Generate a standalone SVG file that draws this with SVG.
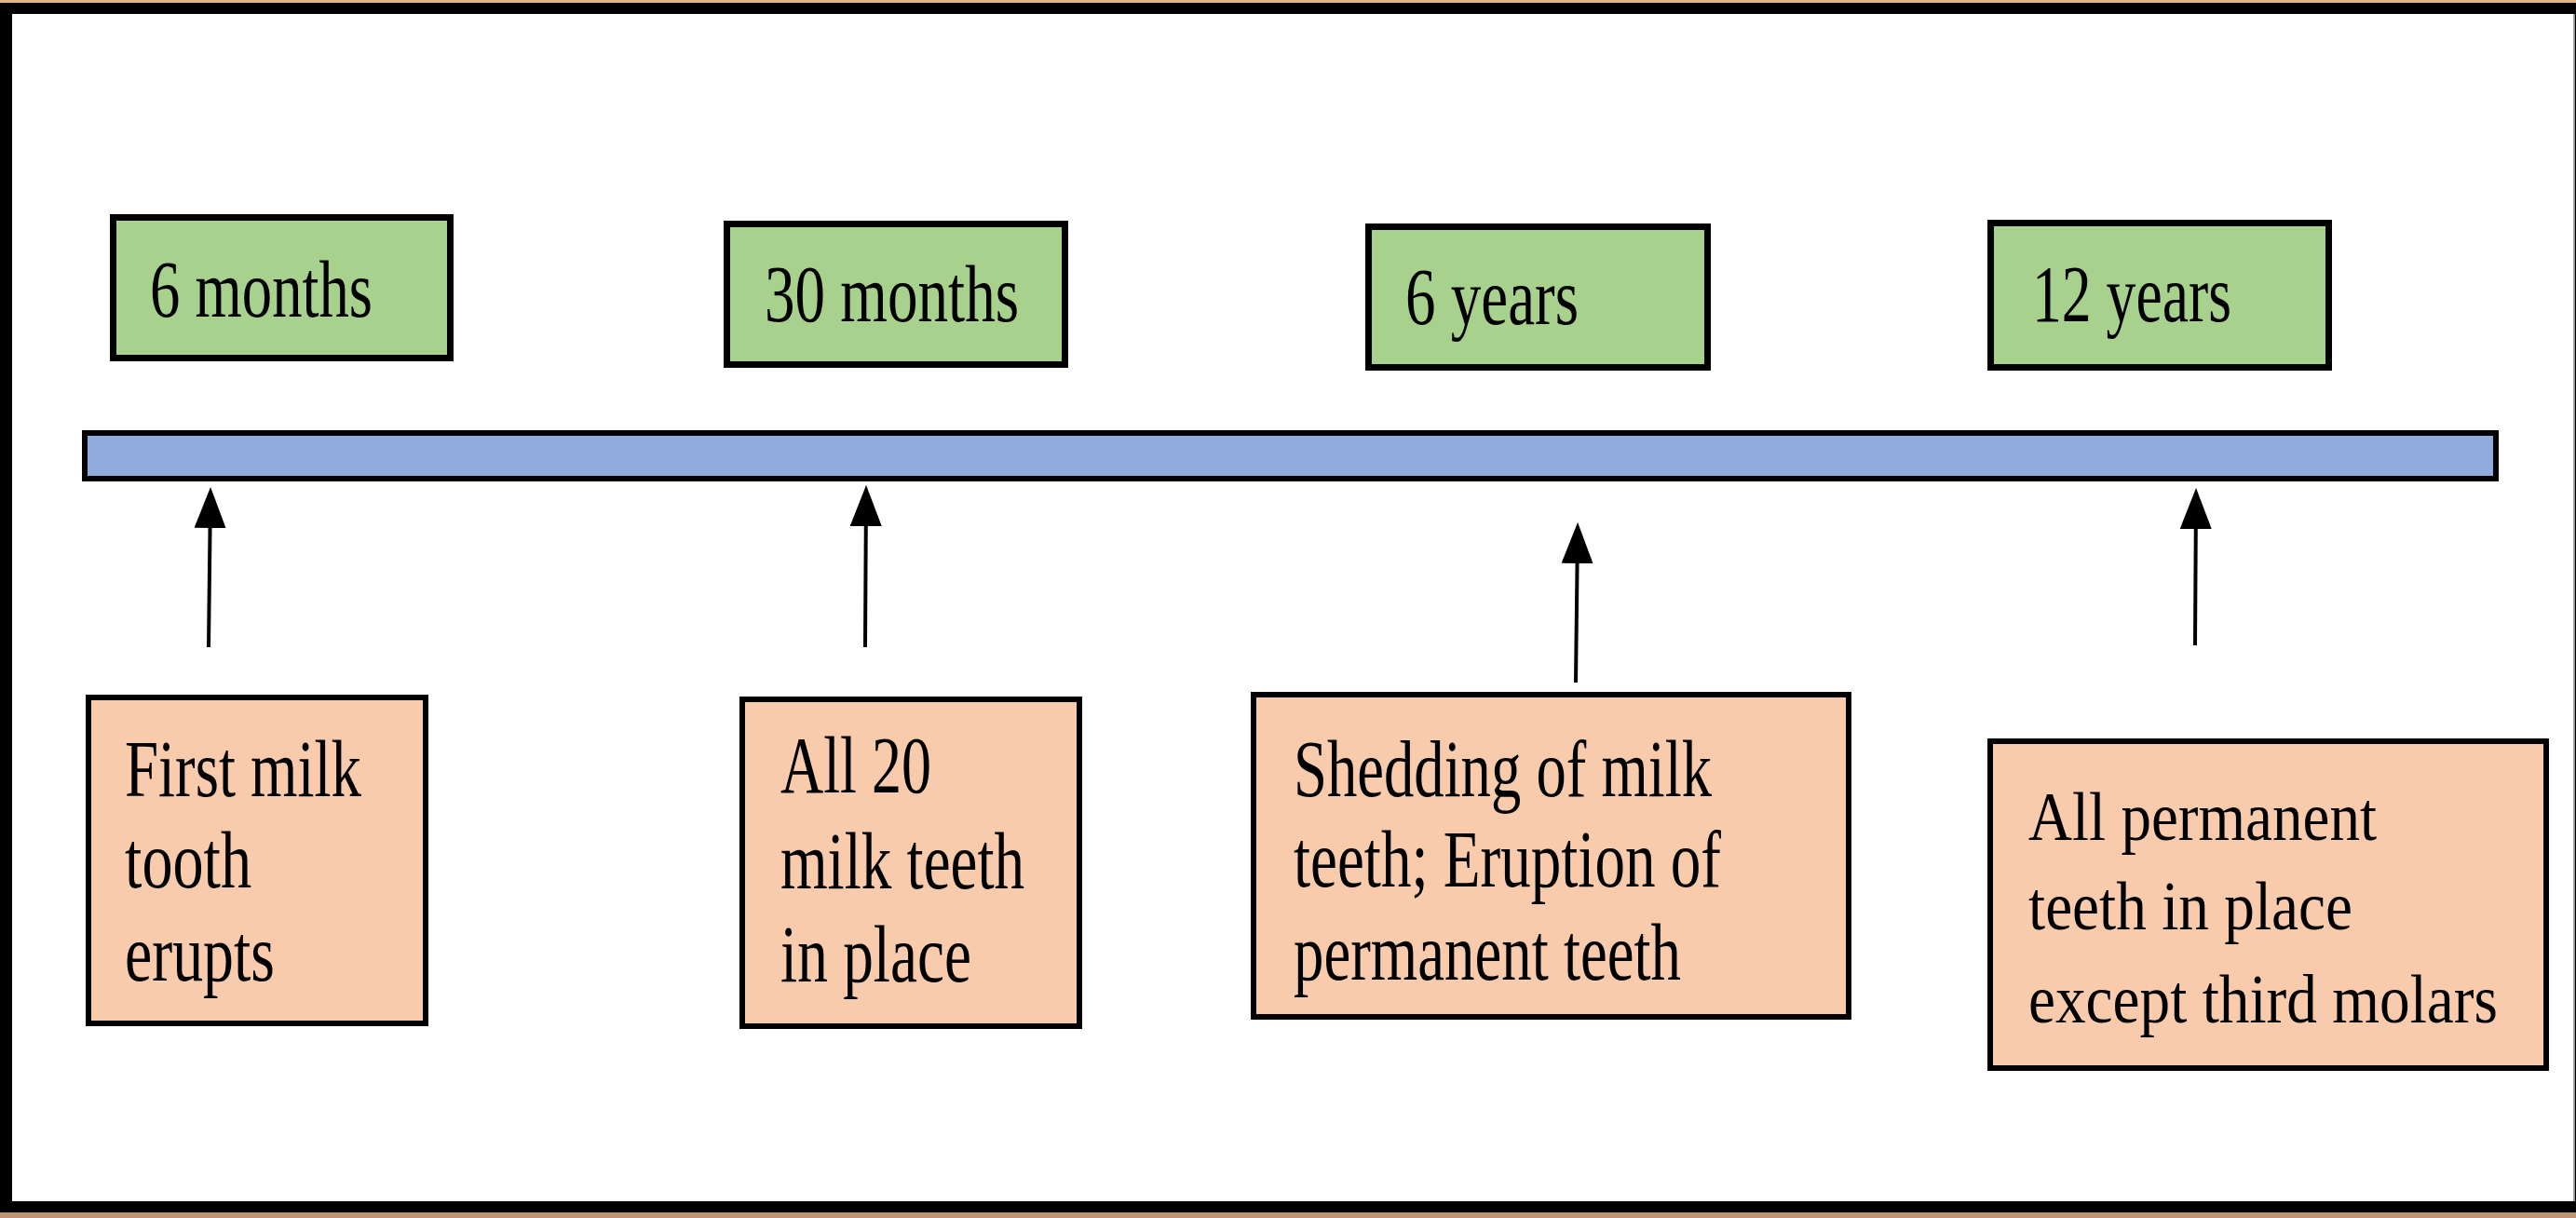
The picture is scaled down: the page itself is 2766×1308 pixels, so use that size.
<svg xmlns="http://www.w3.org/2000/svg" width="2766" height="1308" viewBox="0 0 2766 1308">
<style>
.age{fill:#A9D18E;stroke:#000;stroke-width:7}
.evt{fill:#F8CBAD;stroke:#000;stroke-width:6}
.bar{fill:#8FAADC;stroke:#000;stroke-width:6}
.t{font-family:"Liberation Serif","Times New Roman",serif;fill:#000;font-size:86px}
.t4{font-family:"Liberation Serif","Times New Roman",serif;fill:#000;font-size:75px}
.con{stroke:#000;stroke-width:4;fill:none}
</style>
<defs>
<marker id="ah" markerUnits="userSpaceOnUse" markerWidth="44" markerHeight="34" refX="38" refY="17" orient="auto" viewBox="0 0 44 34">
<path d="M0 0 L44 17 L0 34 Z" fill="#000"/>
</marker>
</defs>
<rect x="0" y="0" width="2766" height="1308" fill="#E8B48A"/>
<rect x="0" y="1300" width="2766" height="8" fill="#BE9478"/>
<rect x="0" y="3" width="2766" height="1299" fill="#000"/>
<rect x="13" y="15" width="2751" height="1275" fill="#fff"/>
<line x1="2764" y1="15" x2="2764" y2="1290" stroke="#999" stroke-width="2"/>

<g id="timeline"><rect class="bar" x="91" y="465" width="2589" height="49"/></g>

<g id="age-6m"><rect class="age" x="121.5" y="233.5" width="362" height="151"/>
<text class="t" x="161" y="340" textLength="239" lengthAdjust="spacingAndGlyphs">6 months</text></g>
<g id="age-30m"><rect class="age" x="780.5" y="240.5" width="363" height="151"/>
<text class="t" x="821" y="345" textLength="273" lengthAdjust="spacingAndGlyphs">30 months</text></g>
<g id="age-6y"><rect class="age" x="1469.5" y="243.5" width="364" height="151"/>
<text class="t" x="1509" y="348" textLength="186" lengthAdjust="spacingAndGlyphs">6 years</text></g>
<g id="age-12y"><rect class="age" x="2137.5" y="239.5" width="363" height="155"/>
<text class="t" x="2182" y="345" textLength="214" lengthAdjust="spacingAndGlyphs">12 years</text></g>

<g id="evt-1"><rect class="evt" x="95" y="749" width="362" height="350"/>
<text class="t" x="134" y="855" textLength="254" lengthAdjust="spacingAndGlyphs">First milk</text>
<text class="t" x="134" y="953" textLength="136" lengthAdjust="spacingAndGlyphs">tooth</text>
<text class="t" x="134" y="1053" textLength="161" lengthAdjust="spacingAndGlyphs">erupts</text></g>
<g id="evt-2"><rect class="evt" x="797" y="751" width="362" height="351"/>
<text class="t" x="838" y="851" textLength="162" lengthAdjust="spacingAndGlyphs">All 20</text>
<text class="t" x="838" y="954" textLength="262" lengthAdjust="spacingAndGlyphs">milk teeth</text>
<text class="t" x="838" y="1054" textLength="205" lengthAdjust="spacingAndGlyphs">in place</text></g>
<g id="evt-3"><rect class="evt" x="1346" y="746" width="639" height="346"/>
<text class="t" x="1389" y="855" textLength="449" lengthAdjust="spacingAndGlyphs">Shedding of milk</text>
<text class="t" x="1389" y="952" textLength="459" lengthAdjust="spacingAndGlyphs">teeth; Eruption of</text>
<text class="t" x="1389" y="1052" textLength="416" lengthAdjust="spacingAndGlyphs">permanent teeth</text></g>
<g id="evt-4"><rect class="evt" x="2137" y="796" width="597" height="351"/>
<text class="t4" x="2178" y="902" textLength="374" lengthAdjust="spacingAndGlyphs">All permanent</text>
<text class="t4" x="2178" y="998" textLength="348" lengthAdjust="spacingAndGlyphs">teeth in place</text>
<text class="t4" x="2178" y="1098" textLength="504" lengthAdjust="spacingAndGlyphs">except third molars</text></g>

<g id="connectors">
<line class="con" x1="224" y1="695" x2="226" y2="529" marker-end="url(#ah)"/>
<line class="con" x1="929" y1="695" x2="930" y2="527" marker-end="url(#ah)"/>
<line class="con" x1="1692" y1="733" x2="1694" y2="567" marker-end="url(#ah)"/>
<line class="con" x1="2357" y1="693" x2="2358" y2="530" marker-end="url(#ah)"/>
</g>
</svg>
